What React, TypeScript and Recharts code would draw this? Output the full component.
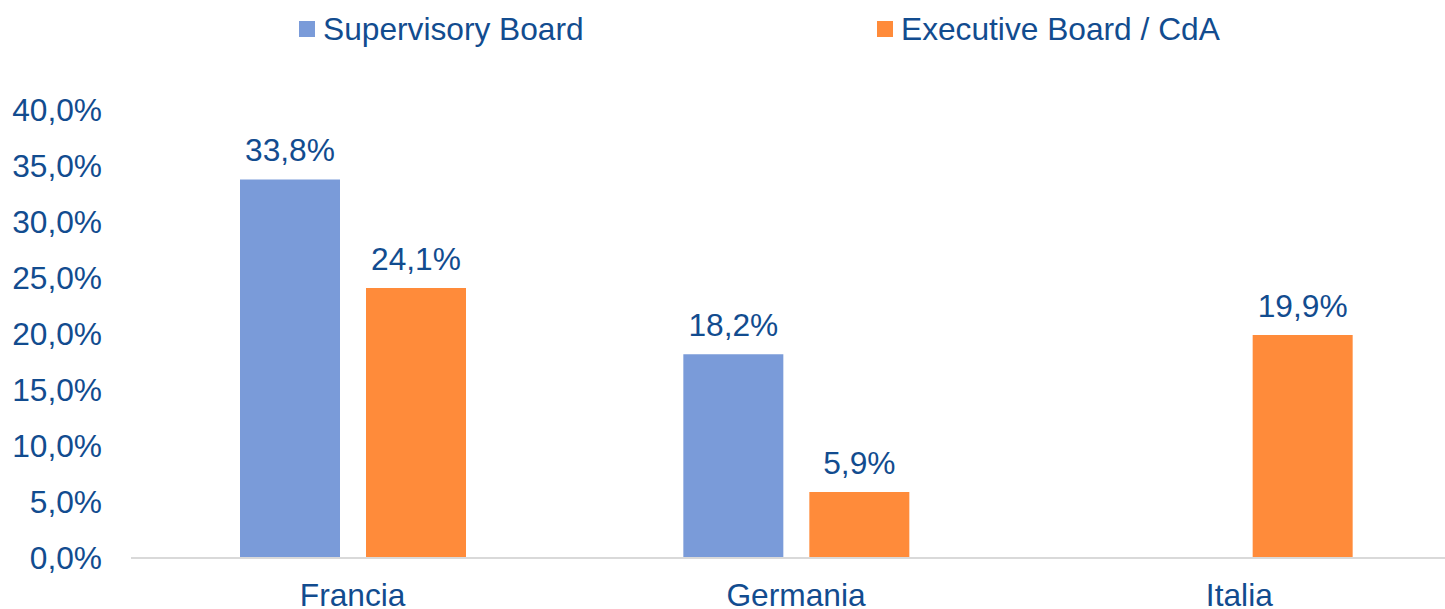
import { Bar, BarChart, LabelList, Legend, XAxis, YAxis } from 'recharts'

const countries = ['Francia', 'Germania', 'Italia']
const supervisory = [33.8, 18.2, null]
const executive = [24.1, 5.9, 19.9]
const yTicks = [0, 5, 10, 15, 20, 25, 30, 35, 40]

const BLUE = '#7A9BD9'
const ORANGE = '#FF8B3A'
const TEXT = '#124C8F'
const FONT = '"Liberation Sans", Arial, sans-serif'
const FS = 31.7

const data = countries.map((c, i) => ({ name: c, supervisory: supervisory[i], executive: executive[i] }))

const fmt = (v: unknown) => (typeof v === 'number' ? v.toFixed(1).replace('.', ',') + '%' : '')

const legendItems = [
  { label: 'Supervisory Board', color: BLUE, left: 299 },
  { label: 'Executive Board / CdA', color: ORANGE, left: 877 },
]

function ChartLegend() {
  return (
    <div style={{ position: 'relative', height: 50, width: 1445 }}>
      {legendItems.map((it) => (
        <div
          key={it.label}
          style={{ position: 'absolute', left: it.left, top: 11, display: 'flex', alignItems: 'center', gap: 8 }}
        >
          <span style={{ width: 16, height: 16, background: it.color, display: 'inline-block' }} />
          <span style={{ fontSize: FS, color: TEXT, fontFamily: FONT, lineHeight: '36px' }}>{it.label}</span>
        </div>
      ))}
    </div>
  )
}

export default function App() {
  return (
    <div style={{ position: 'absolute', left: 0, top: 0, width: 1445, height: 609, overflow: 'hidden', background: '#fff' }}>
      <BarChart
        width={1470}
        height={609}
        data={data}
        margin={{ top: 60, right: 9, left: 0, bottom: 21 }}
        barSize={100}
        barGap={26}
      >
        <Legend
          verticalAlign="top"
          content={() => <ChartLegend />}
          wrapperStyle={{ top: 0, left: 0, width: 1445, height: 50 }}
        />
        <XAxis
          dataKey="name"
          axisLine={{ stroke: '#D9D9D9', strokeWidth: 2 }}
          tickLine={false}
          tickSize={0}
          tickMargin={25}
          tick={{ fontSize: FS, fill: TEXT, fontFamily: FONT }}
        />
        <YAxis
          width={131}
          domain={[0, 40]}
          ticks={yTicks}
          axisLine={false}
          tickLine={false}
          tickSize={0}
          tickMargin={29}
          tickFormatter={(v: number) => fmt(v)}
          tick={{ fontSize: FS, fill: TEXT, fontFamily: FONT }}
        />
        <Bar dataKey="supervisory" fill={BLUE} isAnimationActive={false}>
          <LabelList dataKey="supervisory" position="top" offset={18} formatter={fmt} style={{ fontSize: FS, fill: TEXT, fontFamily: FONT }} />
        </Bar>
        <Bar dataKey="executive" fill={ORANGE} isAnimationActive={false}>
          <LabelList dataKey="executive" position="top" offset={18} formatter={fmt} style={{ fontSize: FS, fill: TEXT, fontFamily: FONT }} />
        </Bar>
      </BarChart>
    </div>
  )
}
